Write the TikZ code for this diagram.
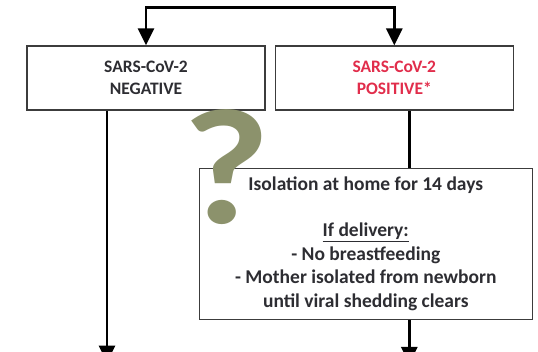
\documentclass[tikz,border=0pt]{standalone}
\usepackage{fontspec}
\setmainfont{Carlito}
\usetikzlibrary{arrows.meta,positioning,calc}

\definecolor{boxline}{RGB}{60,60,60}
\definecolor{boxtext}{RGB}{45,45,50}
\definecolor{posred}{RGB}{225,45,75}
\definecolor{qmark}{RGB}{140,146,108}

\begin{document}
\begin{tikzpicture}[x=1pt,y=1pt,
		result/.style={rectangle,draw=boxline,line width=1.3pt,minimum width=238pt,
			minimum height=64pt,align=center,font=\fontsize{17.5}{22}\selectfont\bfseries,text=boxtext},
		mline/.style={line width=2.8pt},
		marrow/.style={-{Triangle[length=17pt,width=16pt]},line width=2.8pt}]
		\useasboundingbox (0,0) rectangle (538,352);

		\node [result] (neg) at (146,274) {SARS-CoV-2\\NEGATIVE};
		\node [result,text=posred] (pos) [right=9pt of neg] {SARS-CoV-2\\POSITIVE*};

		\node [result,minimum width=333pt,minimum height=151pt,font=\fontsize{19.5}{23.5}\selectfont\bfseries] (iso) [below=57pt of pos,xshift=-28.5pt] {
			Isolation at home for 14 days\\[23pt]
			\underline{If delivery:}\\
			- No breastfeeding\\
			- Mother isolated from newborn\\
			until viral shedding clears
		};

		\coordinate (split) at ($(neg.north)!0.5!(pos.north)+(0,38)$);
		\coordinate (neg-end) at ($(neg.south)+(-39,-252)$);
		\coordinate (iso-end) at ($(pos.south)+(15,0)$);

		% split arrows
		\draw [marrow,{Triangle[length=17pt,width=16pt]}-{Triangle[length=17pt,width=16pt]}] (neg.north) |- (split) -| (pos.north);

		% vertical arrows
		\draw [marrow] ([xshift=-39pt]neg.south) to (neg-end);
		\draw [mline] (iso-end) to (iso-end |- iso.north);
		\draw [marrow] (iso-end |- iso.south) to ++(0,-44);

		% question mark over the boxes
		\node [text=qmark,font=\fontsize{165}{165}\selectfont\bfseries,xscale=1.15,inner sep=0pt] (query) at (226,185) {?};
	\end{tikzpicture}
\end{document}
